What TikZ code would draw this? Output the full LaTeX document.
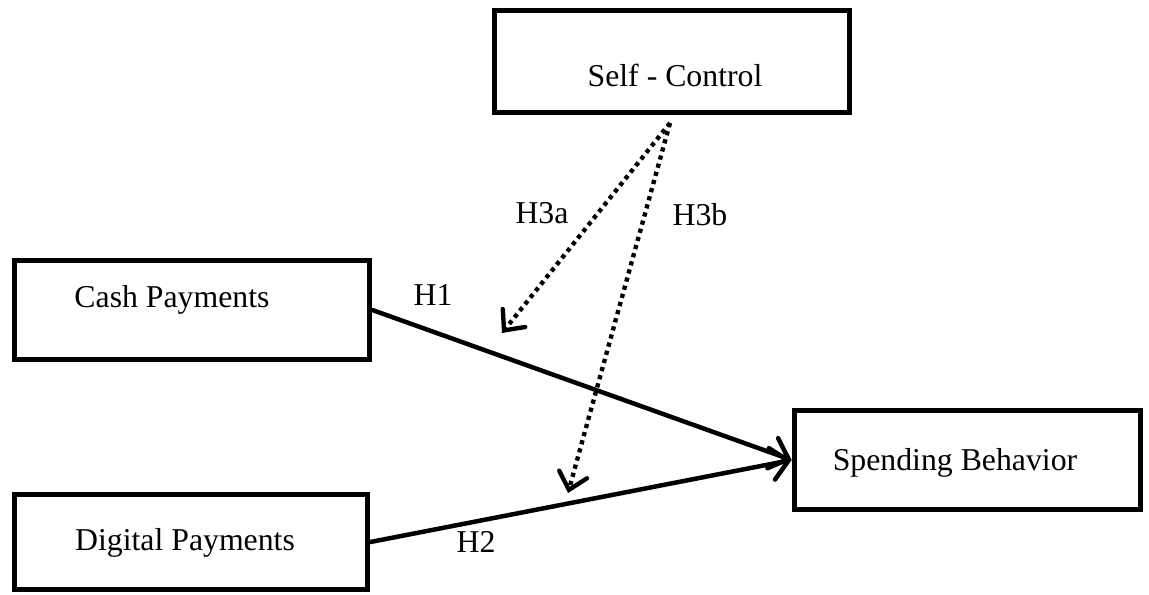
\documentclass[tikz,border=0pt]{standalone}
\usepackage{fontspec}
\setmainfont{Liberation Serif}
\usetikzlibrary{arrows.meta}

\tikzset{
  varbox/.style={draw,line width=4pt,inner sep=0pt,fill=white},
  vartext/.style={font=\fontsize{22.6}{27}\selectfont,inner sep=0pt},
  mainarrow/.style={line width=3.2pt,line cap=round,
    -{Straight Barb[length=0.42cm,width=0.8cm,line cap=round]}},
  modarrow/.style={line width=3.1pt,dash pattern=on 3pt off 3pt,
    -{Straight Barb[length=0.4cm,width=0.72cm,line cap=round]}}
}

\begin{document}
\begin{tikzpicture}[x=0.025cm,y=-0.025cm]

\useasboundingbox (0,0) rectangle (1149,594);

%%%%%%%%%%%%%%%%%%%%%%%%%%%%%%%%%%%%%%%%%%%%%%%%%%
% Boxes
%%%%%%%%%%%%%%%%%%%%%%%%%%%%%%%%%%%%%%%%%%%%%%%%%%

\node[varbox,minimum width=8.875cm,minimum height=2.55cm] (self) at (672,61.5) {};
\node[varbox,minimum width=8.875cm,minimum height=2.475cm] (cash) at (192,310) {};
\node[varbox,minimum width=8.825cm,minimum height=2.375cm] (digital) at (191,542) {};
\node[varbox,minimum width=8.65cm,minimum height=2.475cm] (spend) at (967.5,460) {};

% Box texts
\node[vartext] (selftxt) at (675,75) {Self - Control};
\node[vartext] (cashtxt) at (172,300) {Cash Payments};
\node[vartext] (digitaltxt) at (185,543) {Digital Payments};
\node[vartext] (spendtxt) at (955,463) {Spending Behavior};

%%%%%%%%%%%%%%%%%%%%%%%%%%%%%%%%%%%%%%%%%%%%%%%%%%
% Paths
%%%%%%%%%%%%%%%%%%%%%%%%%%%%%%%%%%%%%%%%%%%%%%%%%%

% Direct effects
\draw[mainarrow] (cash.east) -- (spend.west);
\draw[mainarrow] (digital.east) -- (spend.west);

% Moderation
\coordinate (modstart) at (670,123);
\coordinate (modA) at (502,333);
\coordinate (modB) at (568,493);
\draw[modarrow] (modstart) -- (modA);
\draw[modarrow] (modstart) -- (modB);

% Labels
\node[vartext] (hone) at (433,295) {H1};
\node[vartext] (htwo) at (476,542) {H2};
\node[vartext] (hthreea) at (542,213) {H3a};
\node[vartext] (hthreeb) at (700,215) {H3b};

\end{tikzpicture}
\end{document}
